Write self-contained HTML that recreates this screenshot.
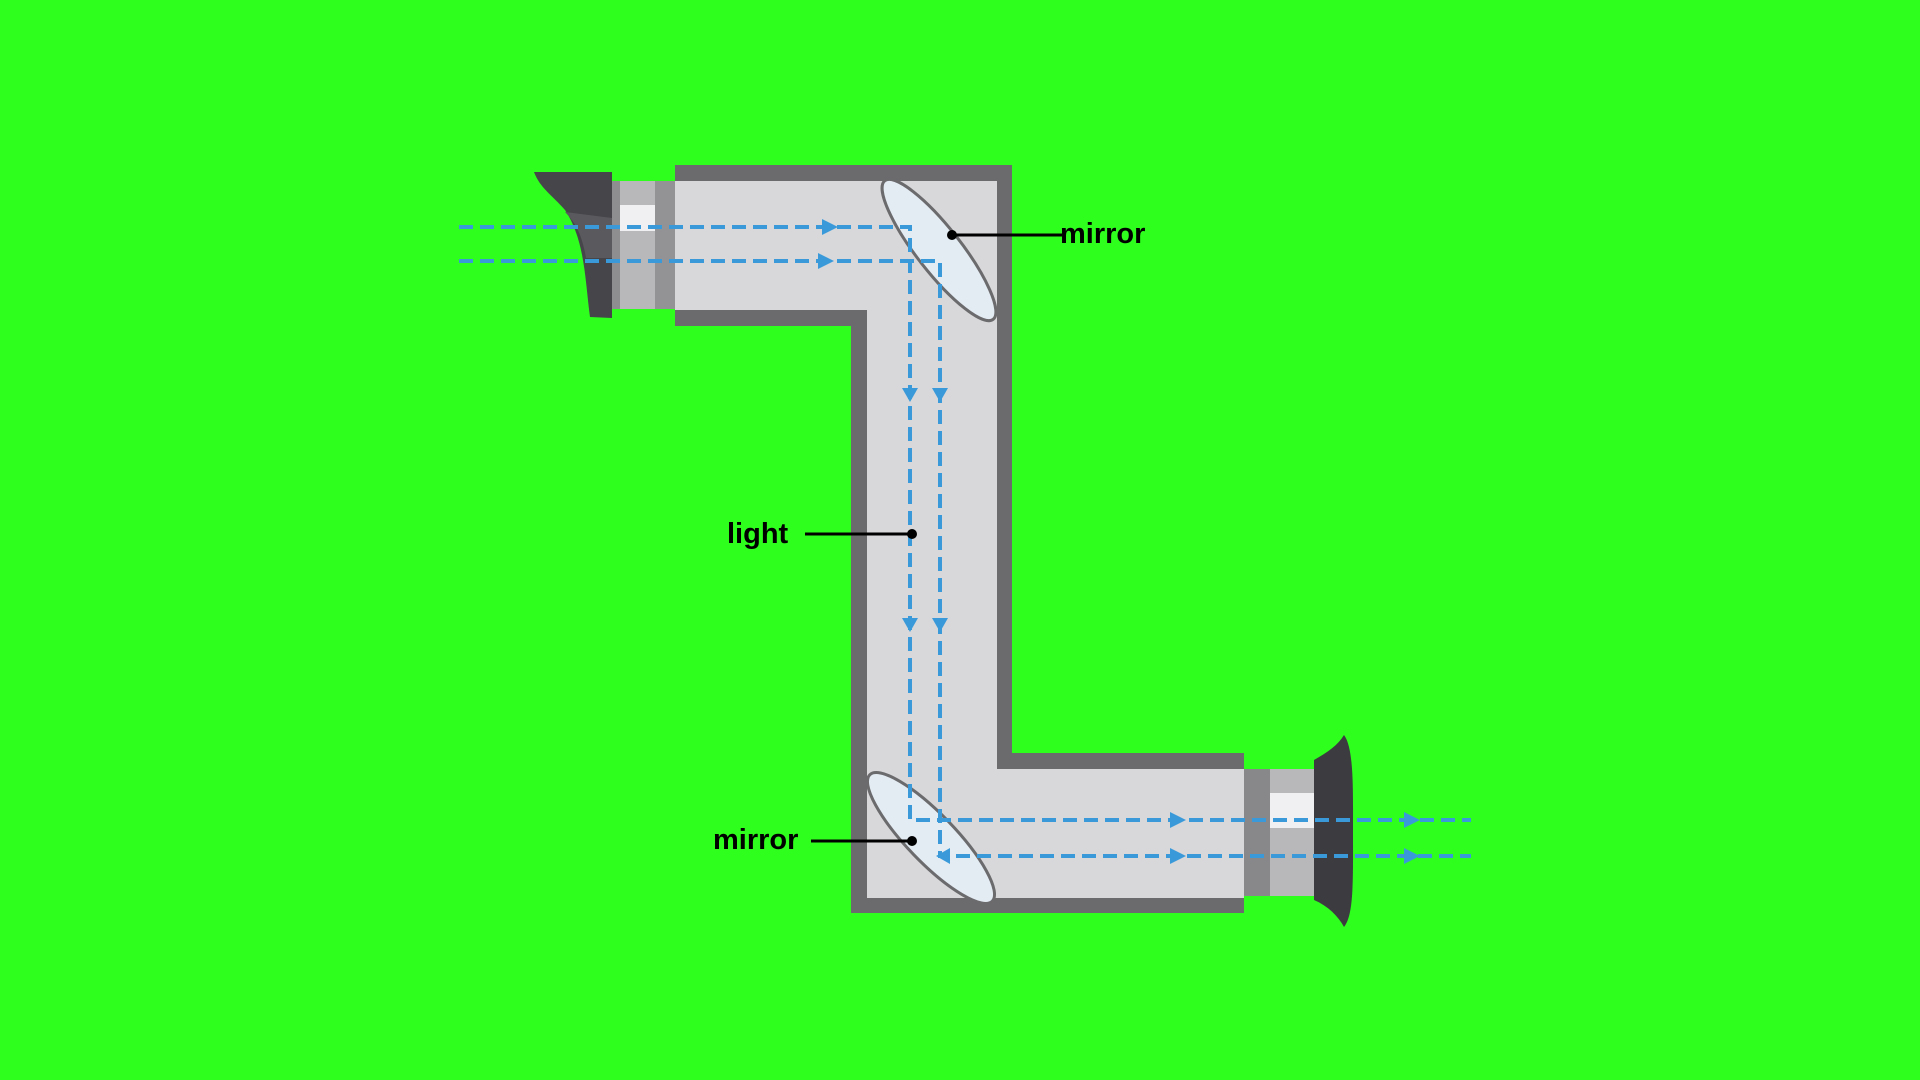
<!DOCTYPE html>
<html><head><meta charset="utf-8"><style>
html,body{margin:0;padding:0;background:#2eff1d;}
svg{display:block}
text{font-family:"Liberation Sans",sans-serif;font-weight:bold;font-size:29px;fill:#000}
</style></head><body>
<svg width="1920" height="1080" viewBox="0 0 1920 1080" xmlns="http://www.w3.org/2000/svg">
<rect width="1920" height="1080" fill="#2eff1d"/>
<!-- tube walls -->
<path d="M675,165 H1012 V753 H1244 V913 H851 V326 H675 Z" fill="#6b6b6e"/>
<path d="M675,181 H997 V769 H1244 V898 H867 V310 H675 Z" fill="#d8d8da"/>
<!-- top eyepiece -->
<rect x="612" y="181" width="63" height="128" fill="#b8b8bb"/>
<rect x="612" y="181" width="8" height="128" fill="#8e8e91"/>
<rect x="655" y="181" width="20" height="128" fill="#939396"/>
<rect x="620" y="205" width="35" height="26" fill="#f0f0f2"/>
<path d="M534,172 L612,172 L612,318 L590,317 C585,280 585,240 565,210 C552,195 540,188 534,172 Z" fill="#46464a"/>
<path d="M565,212 C578,225 583,240 586,258 L612,258 L612,218 Z" fill="#5a5a5e"/>
<!-- bottom eyepiece -->
<rect x="1244" y="769" width="70" height="127" fill="#b8b8bb"/>
<rect x="1244" y="769" width="26" height="127" fill="#88888b"/>
<rect x="1270" y="793" width="44" height="35" fill="#f0f0f2"/>
<path d="M1314,760 C1328,752 1338,745 1344,735 C1354,748 1353,790 1353,830 C1353,880 1354,915 1344,927 C1338,916 1328,906 1314,900 Z" fill="#3c3c40"/>
<!-- mirrors -->
<ellipse cx="939" cy="250" rx="88" ry="22" transform="rotate(52 939 250)" fill="#e4ecf3" stroke="#6b6b6e" stroke-width="3"/>
<ellipse cx="931" cy="838" rx="88" ry="24" transform="rotate(46 931 838)" fill="#e4ecf3" stroke="#6b6b6e" stroke-width="3"/>
<!-- beams -->
<g stroke="#3a9ad9" stroke-width="4" stroke-dasharray="14,7" fill="none">
<path d="M459,227 H910 V820 H1471"/>
<path d="M459,261 H940 V856 H1471"/>
</g>
<g fill="#3a9ad9">
<path d="M822,219 L838,227 L822,235 Z"/>
<path d="M818,253 L834,261 L818,269 Z"/>
<path d="M902,388 L910,402 L918,388 Z"/>
<path d="M932,388 L940,402 L948,388 Z"/>
<path d="M902,618 L910,632 L918,618 Z"/>
<path d="M932,618 L940,632 L948,618 Z"/>
<path d="M1170,812 L1186,820 L1170,828 Z"/>
<path d="M1170,848 L1186,856 L1170,864 Z"/>
<path d="M1404,812 L1420,820 L1404,828 Z"/>
<path d="M1404,848 L1420,856 L1404,864 Z"/>
<path d="M950,848 L936,856 L950,864 Z"/>
</g>
<!-- labels -->
<g stroke="#000" stroke-width="3">
<line x1="952" y1="235" x2="1062" y2="235"/>
<line x1="805" y1="534" x2="912" y2="534"/>
<line x1="811" y1="841" x2="912" y2="841"/>
</g>
<circle cx="952" cy="235" r="5"/>
<circle cx="912" cy="534" r="5"/>
<circle cx="912" cy="841" r="5"/>
<text x="1060" y="243">mirror</text>
<text x="727" y="543">light</text>
<text x="713" y="849">mirror</text>
</svg>
</body></html>
